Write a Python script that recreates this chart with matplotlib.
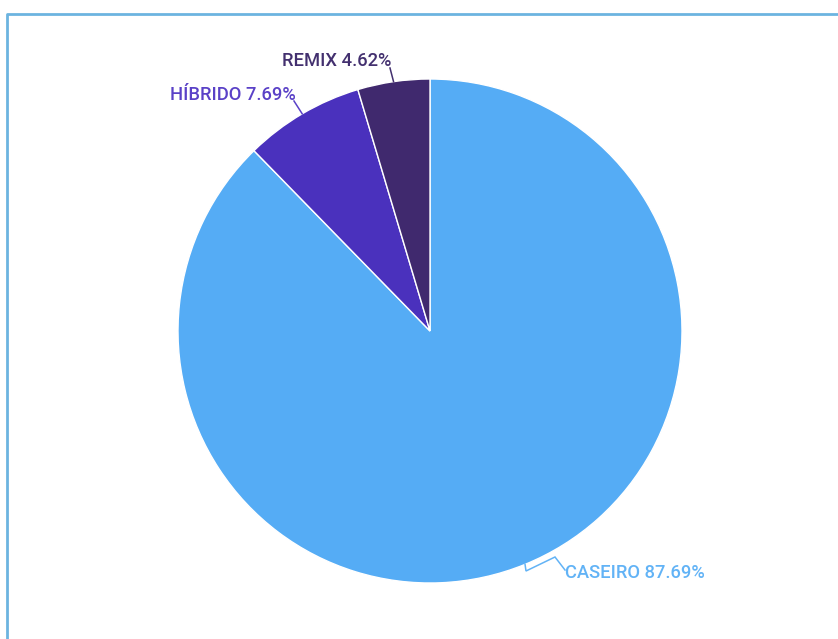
import numpy as np
import matplotlib.pyplot as plt

plt.rcParams['font.family'] = ['Roboto', 'DejaVu Sans']

# slice data, clockwise from 12 o'clock
categories = ['CASEIRO', 'HÍBRIDO', 'REMIX']
shares = [87.69, 7.69, 4.62]
slice_colors = ['#55acf5', '#4a31bd', '#40296e']
label_colors = ['#62b3f6', '#5a41c7', '#43306f']

W, H = 838, 639
fig = plt.figure(figsize=(W / 100, H / 100), dpi=100)
ax = fig.add_axes([0, 0, 1, 1])

cx, cy, r = 430, H - 331, 252

wedges, _ = ax.pie(shares, colors=slice_colors, startangle=90, counterclock=False,
                   center=(cx, cy), radius=r, frame=True,
                   wedgeprops=dict(edgecolor='white', linewidth=1.0))
ax.set_xlim(0, W)
ax.set_ylim(0, H)
ax.set_aspect('equal')
ax.axis('off')

# label anchors (pixel coords, y down) and leader bends
label_pos = {
    'CASEIRO': (565, 573, 'left'),
    'HÍBRIDO': (296, 95, 'right'),
    'REMIX': (391, 61, 'right'),
}
leader_end = {
    'CASEIRO': [(526, 571), (555, 557), (565, 570)],
    'HÍBRIDO': [(294, 101)],
    'REMIX': [(390, 68)],
}

for w, name, pct, col in zip(wedges, categories, shares, label_colors):
    mid = np.deg2rad((w.theta1 + w.theta2) / 2)
    ex, ey = cx + r * np.cos(mid), cy + r * np.sin(mid)
    pts = [(ex, ey)] + [(x, H - y) for x, y in leader_end[name]]
    xs, ys = zip(*pts)
    ax.plot(xs, ys, color=col, lw=1.1, solid_joinstyle='miter')
    tx, ty, ha = label_pos[name]
    ax.text(tx, H - ty, f'{name} {pct:.2f}%', color=col, fontsize=13.2,
            fontweight='medium', ha=ha, va='center')

# frame around the chart
ax.plot([7, 7, W], [0, H - 14, H - 14], color='#6cb4e0', lw=2, clip_on=False)

fig.savefig('out.png', dpi=100)
